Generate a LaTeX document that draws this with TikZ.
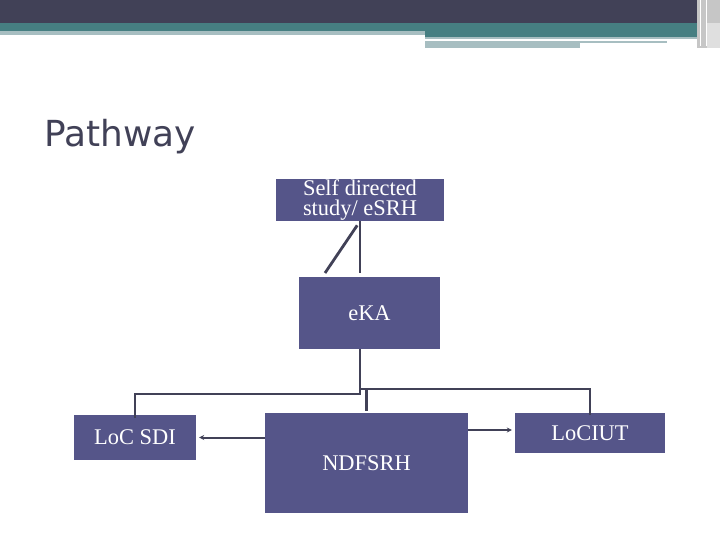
\documentclass[tikz,border=0pt]{standalone}
\usepackage{fontspec}
\setmainfont{Liberation Serif}
\newfontfamily\titlefont{DejaVu Sans}
\usetikzlibrary{arrows.meta}
\definecolor{boxblue}{HTML}{555589}
\definecolor{darkslate}{HTML}{414157}
\definecolor{tealband}{HTML}{467F82}
\definecolor{paleband}{HTML}{A7BEC1}
\begin{document}
\begin{tikzpicture}[x=1bp,y=-1bp,
  box/.style={fill=boxblue,text=white,inner sep=0pt,align=center,
    font=\fontsize{22.5}{21}\selectfont},
  link/.style={draw=darkslate,line width=2.8bp},
  arr/.style={draw=darkslate,line width=2bp,-{Stealth[length=5bp,width=5bp]},shorten >=3bp}]
\useasboundingbox (0,0) rectangle (720,540);
% header bands
\fill[darkslate] (0,0) rectangle (720,23);
\fill[tealband] (0,23) rectangle (720,31);
\fill[paleband] (0,31) rectangle (425,35);
\fill[tealband] (425,31) rectangle (697,37);
\fill[paleband] (425,37) rectangle (697,39);
\fill[paleband] (425,41) rectangle (667,43);
\fill[paleband] (425,43) rectangle (580,48);
\fill[gray!45] (697,0) rectangle (720,48);
\fill[gray!25] (707,23) rectangle (720,48);
\draw[white,line width=1bp] (700,0) -- (700,46);
\draw[white,line width=1bp] (706,0) -- (706,46);
% title
\node[anchor=base west,text=darkslate,inner sep=0pt,
  font=\titlefont\fontsize{36}{40}\selectfont] (title) at (44,147) {Pathway};
% boxes
\node[box,minimum width=168bp,minimum height=42bp] (self) at (360,200) {Self directed\\study/ eSRH};
\node[box,minimum width=141bp,minimum height=72bp] (eka) at (369.5,313) {eKA};
\node[box,minimum width=122bp,minimum height=45bp] (sdi) at (135,437.5) {LoC SDI};
\node[box,minimum width=203bp,minimum height=100bp] (ndf) at (366.5,463) {NDFSRH};
\node[box,minimum width=150bp,minimum height=40bp] (ciut) at (590,433) {LoCIUT};
% links
\coordinate (tail) at (325,273);
\coordinate (forkl) at (360,394);
\coordinate (forkr) at (360,389);
\draw[link,shorten >=4bp] (self.south) -- (self.south |- eka.north);
\draw[link,shorten <=5bp] (self.south) -- (tail);
\draw[link] (eka.south -| forkl) -- (forkl) -| ([yshift=-3bp]sdi.north);
\draw[link] (forkr) -| ([yshift=-2bp]ciut.north);
\draw[link,shorten >=2bp] (ndf.north |- forkr) -- (ndf.north);
\draw[arr] (ndf.west |- sdi.east) -- (sdi.east);
\draw[arr] ([yshift=3bp]ndf.east |- ciut.west) -- ([yshift=3bp]ciut.west);
\end{tikzpicture}
\end{document}
